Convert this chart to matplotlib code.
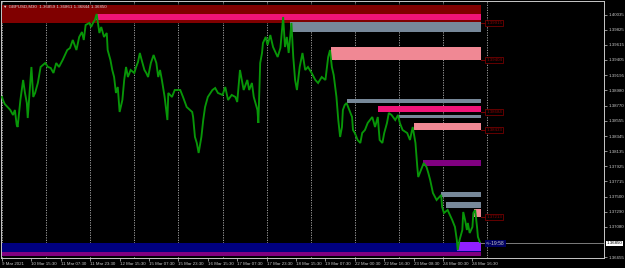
import matplotlib
matplotlib.use('Agg')
import matplotlib.pyplot as plt
import matplotlib.transforms as mtransforms
from matplotlib.patches import Rectangle

# ---------------- data ----------------
bars = [0, 1, 3, 7, 9, 12, 14, 16, 17, 20, 23, 25, 27, 28, 32, 34, 36, 39, 42, 47,
        50, 53, 56, 59, 62, 66, 71, 74, 77, 81, 84, 87, 89, 91, 95, 97, 99, 101, 103, 106,
        108, 111, 114, 115, 118, 120, 122, 124, 126, 128, 131, 133, 135, 137, 140, 144, 146, 148, 150, 152,
        155, 157, 159, 162, 165, 168, 170, 172, 174, 177, 180, 181, 185, 188, 194, 197, 201, 207, 208, 210,
        212, 214, 217, 219, 221, 224, 229, 232, 235, 240, 243, 246, 250, 254, 256, 259, 261, 263, 267, 269,
        272, 274, 278, 279, 281, 283, 284, 287, 289, 292, 295, 298, 300, 303, 306, 308, 310, 312, 315, 317,
        319, 321, 324, 327, 330, 333, 337, 341, 344, 348, 352, 355, 357, 359, 361, 364, 366, 368, 370, 371,
        373, 375, 378, 381, 382, 384, 387, 390, 392, 395, 398, 403, 406, 409, 411, 414, 416, 419, 421, 424,
        428, 431, 433, 436, 441, 444, 447, 450, 452, 453, 456, 459, 462, 464, 466, 469, 473, 476, 478, 479,
        481, 485, 490, 493, 495, 496, 498, 501, 502, 504, 506, 507, 509, 512, 513, 515, 517, 518, 520]
closes = [1.38889, 1.38847, 1.38791, 1.38736, 1.38708, 1.38638, 1.38708, 1.38499, 1.38471, 1.38847,
          1.39126, 1.38945, 1.38805, 1.38596, 1.39307, 1.38889, 1.38945, 1.39084, 1.39307, 1.39362,
          1.39307, 1.39293, 1.39223, 1.39362, 1.39307, 1.39404, 1.39543, 1.39571, 1.39683, 1.39543,
          1.39725, 1.39794, 1.39683, 1.39892, 1.39920, 1.39864, 1.39920, 1.39961, 1.40045, 1.39780,
          1.39864, 1.39725, 1.39780, 1.39543, 1.39404, 1.39265, 1.39167, 1.38945, 1.39028, 1.38680,
          1.38847, 1.39126, 1.39307, 1.39167, 1.39265, 1.39223, 1.39307, 1.39376, 1.39502, 1.39404,
          1.39265, 1.39223, 1.39167, 1.39362, 1.39474, 1.39362, 1.39167, 1.39265, 1.39126, 1.38889,
          1.38568, 1.38945, 1.38889, 1.38986, 1.38986, 1.38889, 1.38749, 1.38680, 1.38610, 1.38332,
          1.38248, 1.38109, 1.38332, 1.38568, 1.38749, 1.38889, 1.38986, 1.39014, 1.38945, 1.38917,
          1.39028, 1.38847, 1.38917, 1.38889, 1.38819, 1.39265, 1.39126, 1.38986, 1.39126, 1.38986,
          1.39084, 1.38889, 1.38708, 1.38527, 1.39362, 1.39502, 1.39641, 1.39725, 1.39613, 1.39752,
          1.39585, 1.39502, 1.39446, 1.39571, 1.40003, 1.39585, 1.39725, 1.39502, 1.39920, 1.39446,
          1.39126, 1.38986, 1.39307, 1.39502, 1.39265, 1.39307, 1.39223, 1.39126, 1.39084, 1.39167,
          1.39126, 1.39446, 1.39543, 1.39307, 1.39195, 1.38889, 1.38568, 1.38332, 1.38471, 1.38708,
          1.38777, 1.38805, 1.38708, 1.38610, 1.38429, 1.38387, 1.38290, 1.38248, 1.38387, 1.38429,
          1.38527, 1.38610, 1.38471, 1.38610, 1.38290, 1.38248, 1.38387, 1.38527, 1.38666, 1.38638,
          1.38568, 1.38638, 1.38527, 1.38429, 1.38387, 1.38290, 1.38471, 1.38248, 1.37914, 1.37774,
          1.37872, 1.37969, 1.37914, 1.37830, 1.37733, 1.37552, 1.37454, 1.37496, 1.37524, 1.37356,
          1.37273, 1.37315, 1.37175, 1.37078, 1.36897, 1.36757, 1.36897, 1.37036, 1.37287, 1.37175,
          1.37036, 1.37134, 1.36994, 1.37078, 1.37273, 1.37315, 1.37078, 1.36939, 1.36869]

time_labels = ["9 Mar 2021", "10 Mar 15:30", "11 Mar 07:30", "11 Mar 23:30", "12 Mar 15:30",
               "15 Mar 07:30", "15 Mar 23:30", "16 Mar 15:30", "17 Mar 07:30", "17 Mar 23:30",
               "18 Mar 15:30", "19 Mar 07:30", "22 Mar 00:30", "22 Mar 16:30", "23 Mar 08:30",
               "24 Mar 00:30", "24 Mar 16:30"]
price_ticks = [1.40035, 1.39825, 1.39615, 1.39405, 1.39195, 1.38980, 1.38770, 1.38555,
               1.38345, 1.38135, 1.37925, 1.37715, 1.37500, 1.37290, 1.37080, 1.36655]

# supply / demand zones: start bar, top price, bottom price, colour
zone_start = [0, 102, 313, 358, 375, 409, 432, 448, 458, 478, 483, 514, 0, 0, 495]
zone_top = [1.40175, 1.40049, 1.39934, 1.39585, 1.38861, 1.38768, 1.38642, 1.38522,
            1.38011, 1.37565, 1.37426, 1.37325, 1.36855, 1.36851, 1.36869]
zone_bottom = [1.39915, 1.39966, 1.39794, 1.39404, 1.38805, 1.38684, 1.38596, 1.38433,
               1.37928, 1.37496, 1.37338, 1.37213, 1.36674, 1.36734, 1.36739]
zone_colors = ['#800000', '#F01478', '#778899', '#F08894', '#778899', '#F01478', '#778899',
               '#F08894', '#800080', '#778899', '#778899', '#F08894', '#800080', '#000080', '#9020FF']

level_prices = [1.39915, 1.39404, 1.38684, 1.38433, 1.37213]
level_texts = ["1.39915", "1.39404", "1.38684", "1.38433", "1.37213"]

last_price = 1.36850
timer_text = "<--19:58"
header = "\u25BC GBPUSD,M30  1.36859 1.36861 1.36844 1.36850"

# ---------------- figure ----------------
W, H = 625, 268
fig = plt.figure(figsize=(W / 100, H / 100), dpi=100, facecolor='black')
ax = fig.add_axes([1 / W, 10 / H, 603 / W, 257 / H])
ax.set_facecolor('black')
FONT = ['Liberation Sans', 'DejaVu Sans']
fs = 3.2

end_bar = bars[-1] + 1
ax.set_xlim(-1.1, 655.2)
ax.set_ylim(1.36646, 1.40226)

# grid
for g in range(0, end_bar + 10, 48):
    ax.axvline(g, color='#B0B0B0', lw=0.6, ls=(0, (1.5, 1.5)), zorder=1)

# current price line
ax.axhline(last_price, color='#909090', lw=0.6, zorder=1.5)

# zones
for s, t, b, c in zip(zone_start, zone_top, zone_bottom, zone_colors):
    ax.add_patch(Rectangle((s, b), end_bar - s, t - b, facecolor=c, edgecolor='none', zorder=2))

# price line
ax.plot(bars, closes, color='#089608', lw=1.35, zorder=3, solid_joinstyle='miter')

# zone level labels
lx = end_bar + 6
for p, txt in zip(level_prices, level_texts):
    ax.plot([end_bar, lx], [p, p], color='#8B0000', lw=0.6, zorder=4)
    ax.text(lx, p, txt, color='#8B0000', fontsize=fs, family=FONT, va='center', ha='left',
            zorder=5, bbox=dict(facecolor='black', edgecolor='#8B0000', lw=0.5, pad=0.6))

# timer label
ax.text(lx, last_price, timer_text, color='#C8C8C8', fontsize=fs + 0.4, family=FONT,
        va='center', ha='left', zorder=5,
        bbox=dict(facecolor='#000060', edgecolor='none', pad=0.6))

# header
ax.text(0.004, 0.985, header, transform=ax.transAxes, color='#D8D8D8', fontsize=fs,
        family=FONT, va='top', ha='left', zorder=6)

# axes styling
for sp in ax.spines.values():
    sp.set_color('#C8C8C8')
    sp.set_linewidth(0.7)
ax.yaxis.tick_right()
ax.set_yticks(price_ticks)
ax.set_yticklabels([f"{v:.5f}" for v in price_ticks])
ax.set_xticks([32 * i for i in range(len(time_labels))])
ax.set_xticklabels(time_labels)
ax.tick_params(axis='y', colors='#C8C8C8', labelsize=fs, length=2, width=0.5, pad=1.5)
ax.tick_params(axis='x', colors='#C8C8C8', labelsize=fs, length=2, width=0.5, pad=1.0)
for lab in ax.get_xticklabels():
    lab.set_ha('left')
    lab.set_family(FONT)
for lab in ax.get_yticklabels():
    lab.set_family(FONT)

# current price box on axis
trans = mtransforms.blended_transform_factory(ax.transAxes, ax.transData)
ax.text(1.004, last_price, f"{last_price:.5f}", transform=trans, color='black', fontsize=fs,
        family=FONT, va='center', ha='left', zorder=7, clip_on=False,
        bbox=dict(facecolor='white', edgecolor='none', pad=0.6))

fig.savefig('out.png', dpi=100, facecolor='black')
